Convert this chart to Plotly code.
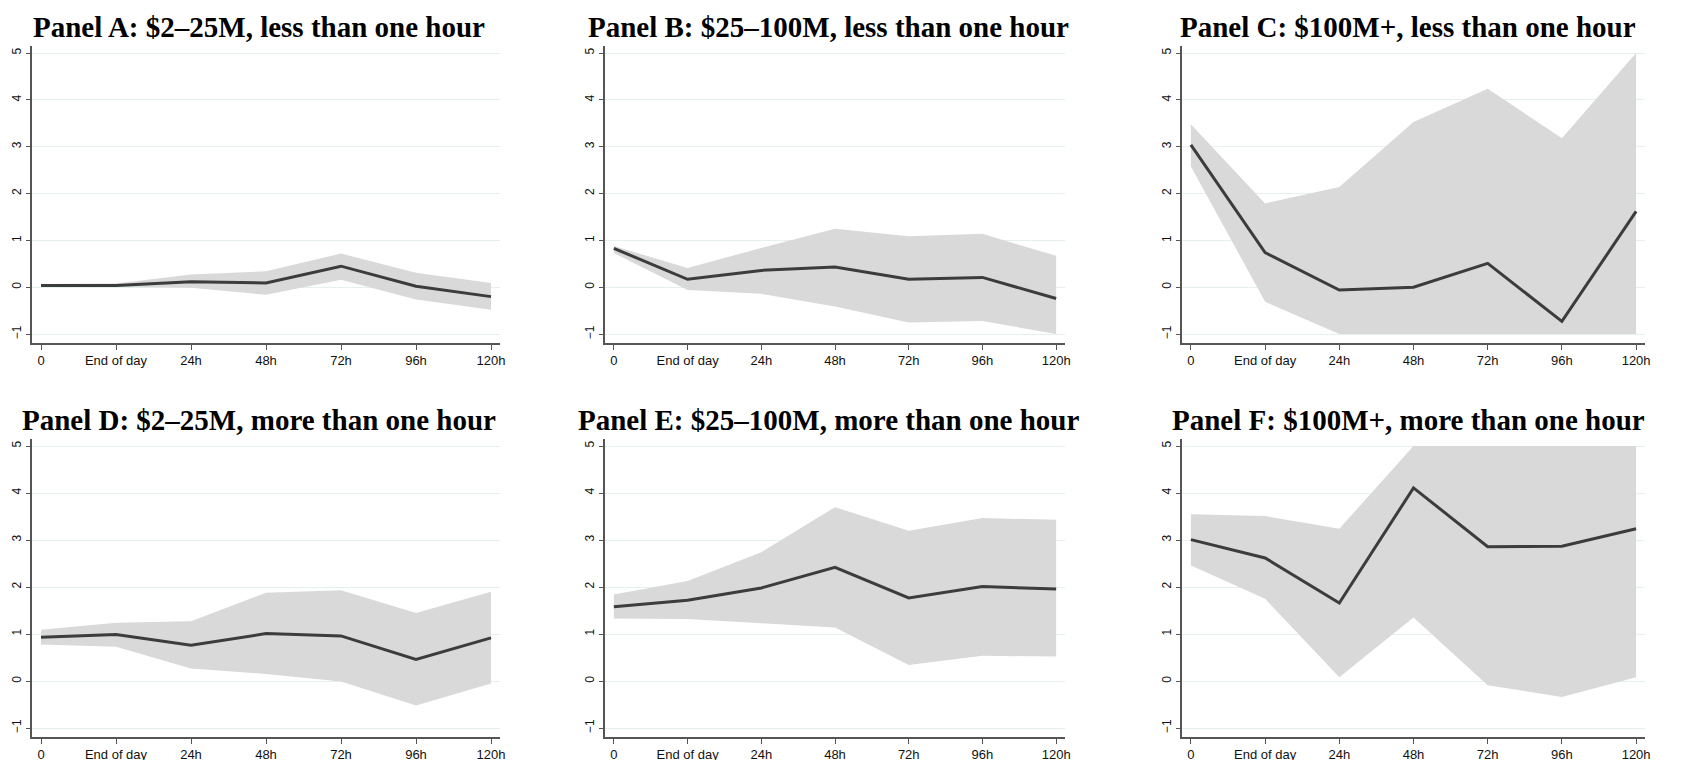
import plotly.graph_objects as go

horizons = ['0', 'End of day', '24h', '48h', '72h', '96h', '120h']

titles = [
    'Panel A: $2–25M, less than one hour',
    'Panel B: $25–100M, less than one hour',
    'Panel C: $100M+, less than one hour',
    'Panel D: $2–25M, more than one hour',
    'Panel E: $25–100M, more than one hour',
    'Panel F: $100M+, more than one hour',
]

# point estimates
est_a = [0.04, 0.04, 0.12, 0.09, 0.45, 0.02, -0.20]
est_b = [0.83, 0.17, 0.36, 0.43, 0.17, 0.21, -0.24]
est_c = [3.04, 0.74, -0.06, 0.00, 0.51, -0.73, 1.62]
est_d = [0.93, 0.99, 0.76, 1.01, 0.96, 0.46, 0.92]
est_e = [1.58, 1.72, 1.98, 2.42, 1.77, 2.01, 1.96]
est_f = [3.01, 2.62, 1.66, 4.11, 2.86, 2.87, 3.24]

# upper confidence bounds
hi_a = [0.07, 0.08, 0.27, 0.34, 0.72, 0.31, 0.09]
hi_b = [0.88, 0.41, 0.84, 1.25, 1.09, 1.14, 0.67]
hi_c = [3.48, 1.79, 2.14, 3.53, 4.24, 3.18, 5.00]
hi_d = [1.09, 1.24, 1.27, 1.88, 1.93, 1.45, 1.90]
hi_e = [1.84, 2.13, 2.74, 3.70, 3.20, 3.47, 3.43]
hi_f = [3.55, 3.51, 3.24, 5.00, 5.00, 5.00, 5.00]

# lower confidence bounds
lo_a = [0.02, 0.00, -0.01, -0.16, 0.16, -0.26, -0.48]
lo_b = [0.73, -0.06, -0.14, -0.41, -0.75, -0.72, -1.00]
lo_c = [2.58, -0.31, -1.00, -1.00, -1.00, -1.00, -1.00]
lo_d = [0.78, 0.73, 0.27, 0.15, -0.01, -0.52, -0.05]
lo_e = [1.33, 1.32, 1.23, 1.14, 0.34, 0.54, 0.52]
lo_f = [2.46, 1.75, 0.08, 1.35, -0.09, -0.34, 0.08]

panels = [
    (est_a, hi_a, lo_a), (est_b, hi_b, lo_b), (est_c, hi_c, lo_c),
    (est_d, hi_d, lo_d), (est_e, hi_e, lo_e), (est_f, hi_f, lo_f),
]

W, H = 1694, 760
OFF = 8  # the page body margin pushes the figure 8px right and down
# pixel boxes of each plot region on screen: (left, right), (top, bottom)
cols = [(32, 500), (605, 1065), (1182, 1645)]
rows = [(46, 343), (439, 737)]
title_x = [259, 828, 1408]
title_y = [27, 420]

xs = list(range(len(horizons)))
fig = go.Figure()
annotations = []

for i, (est, hi, lo) in enumerate(panels):
    r, c = divmod(i, 3)
    n = i + 1
    xa = 'x' if n == 1 else f'x{n}'
    ya = 'y' if n == 1 else f'y{n}'

    fig.add_trace(go.Scatter(x=xs, y=lo, mode='lines', line=dict(width=0),
                             xaxis=xa, yaxis=ya, showlegend=False, hoverinfo='skip'))
    fig.add_trace(go.Scatter(x=xs, y=hi, mode='lines', line=dict(width=0),
                             fill='tonexty', fillcolor='#d9d9d9',
                             xaxis=xa, yaxis=ya, showlegend=False, hoverinfo='skip'))
    fig.add_trace(go.Scatter(x=xs, y=est, mode='lines', line=dict(color='#3c3c3c', width=3),
                             xaxis=xa, yaxis=ya, showlegend=False))

    (x0, x1), (y0, y1) = cols[c], rows[r]
    x0, x1, y0, y1 = x0 - OFF, x1 - OFF, y0 - OFF, y1 - OFF
    axkey = '' if n == 1 else str(n)
    fig.update_layout({
        f'xaxis{axkey}': dict(
            domain=[x0 / W, x1 / W], anchor=ya, range=[-0.12, 6.12],
            tickvals=xs, ticktext=horizons, showgrid=False, zeroline=False,
            showline=True, linecolor='#555555', linewidth=1.5,
            ticks='outside', ticklen=5, tickcolor='#555555',
            tickfont=dict(family='Liberation Sans', size=13, color='#111111'),
            automargin=False, fixedrange=True,
        ),
        f'yaxis{axkey}': dict(
            domain=[1 - y1 / H, 1 - y0 / H], anchor=xa, range=[-1.19, 5.15],
            tickvals=[-1, 0, 1, 2, 3, 4, 5], tickangle=-90,
            showgrid=True, gridcolor='#e6f0f3', gridwidth=1, zeroline=False,
            showline=True, linecolor='#555555', linewidth=1.5,
            ticks='outside', ticklen=4, tickcolor='#555555',
            tickfont=dict(family='Liberation Sans', size=12, color='#111111'),
            automargin=False, fixedrange=True,
        ),
    })
    annotations.append(dict(
        text=f'<b>{titles[i]}</b>', xref='paper', yref='paper',
        x=(title_x[c] - OFF) / W, y=1 - (title_y[r] - OFF) / H,
        xanchor='center', yanchor='middle', showarrow=False,
        font=dict(family='Liberation Serif', size=29, color='#000000'),
    ))

fig.update_layout(
    width=W, height=H, template='none',
    paper_bgcolor='white', plot_bgcolor='white',
    margin=dict(l=0, r=0, t=0, b=0),
    annotations=annotations,
)

fig.write_html("out.html")
